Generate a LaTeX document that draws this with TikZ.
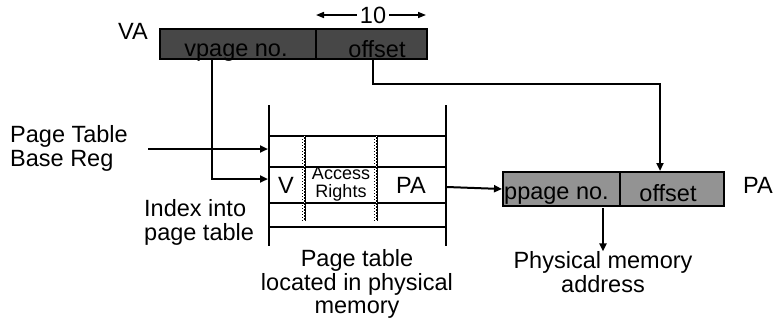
\documentclass[tikz,border=0pt]{standalone}
\usepackage{fontspec}
\setmainfont{Liberation Sans}
\usetikzlibrary{arrows.meta}
\definecolor{vafill}{HTML}{474747}
\definecolor{pafill}{HTML}{939393}
\tikzset{
  lbl/.style={inner sep=0pt, font=\fontsize{23.5}{23.5}\selectfont},
  small/.style={inner sep=0pt, font=\fontsize{18}{18}\selectfont},
  field/.style={draw, line width=2pt, inner sep=0pt},
  conn/.style={line width=2pt},
  arr/.style={line width=2pt, -{Triangle[length=8pt,width=7pt]}},
  tline/.style={line width=2.2pt},
  divider/.style={line width=2pt},
  dotline/.style={line width=1pt, dotted},
  widtharr/.style={line width=1.5pt, -{Triangle[length=8pt,width=6pt]}}
}
\begin{document}
\begin{tikzpicture}[x=1pt,y=-1pt]
\useasboundingbox (0,0) rectangle (775,325);

% virtual address register
\node[field, fill=vafill, minimum width=156pt, minimum height=30pt] (vpn) at (238,44) {};
\node[field, fill=vafill, minimum width=111pt, minimum height=30pt] (voff) at (371.5,44) {};
\node[lbl, anchor=base] (vpntxt) at (236,56) {vpage no.};
\node[lbl, anchor=base] (vofftxt) at (377,57) {offset};
\node[lbl] (valbl) at (133,31) {VA};

% offset width marker
\node[lbl] (ten) at (373,15) {10};
\coordinate (tenL) at (316,15);
\coordinate (tenR) at (426,15);
\draw[widtharr] (ten.west) ++(-3,0) -- (tenL);
\draw[widtharr] (ten.east) ++(3,0) -- (tenR);

% page table
\coordinate (tl) at (269,105);
\coordinate (bl) at (269,246);
\coordinate (tr) at (446,105);
\coordinate (br) at (446,246);
\draw[tline] (tl) -- (bl);
\draw[tline] (tr) -- (br);
\foreach \yy in {136,167,203,227}
  \draw[tline] (269,\yy) -- (446,\yy);
\foreach \xx in {305,377} {
  \draw[divider] (\xx,136) -- (\xx,221);
  \draw[dotline, white] (\xx-0.6,136) -- (\xx-0.6,221);
  \draw[dotline] (\xx-2.2,136) -- (\xx-2.2,221);
}
\node[lbl] (vcol) at (286,185) {V};
\node[small, align=center] (accol) at (341,184) {Access\\Rights};
\node[lbl] (pacol) at (411,185) {PA};

\coordinate (baseIn) at (268,149);
\coordinate (idxIn) at (268,179);
\coordinate (paOut) at (447,187);

% physical address register
\node[field, fill=pafill, minimum width=117pt, minimum height=34pt] (ppn) at (561.5,189) {};
\node[field, fill=pafill, minimum width=104pt, minimum height=34pt] (poff) at (672,189) {};
\node[lbl, anchor=base west] (ppntxt) at (504,199) {ppage no.};
\node[lbl, anchor=base] (pofftxt) at (668,201) {offset};
\node[lbl] (palbl) at (758,185) {PA};

% labels
\node[lbl, align=left, anchor=west] (ptbr) at (10,148.5) {Page Table\\Base Reg};
\node[lbl, align=left, anchor=west] (idx) at (144,222.5) {Index into\\page table};
\node[lbl, align=center] (ptloc) at (357,284) {Page table\\located in physical\\memory};
\node[lbl, align=center] (pmaddr) at (603,272) {Physical memory\\address};

% connectors
\coordinate (ptbrEnd) at (148,149);
\draw[arr] (ptbrEnd) -- (baseIn);
\draw[arr] (vpn.south -| 212,0) -- (212,179) -- (idxIn);
\draw[arr] (voff.south -| 373,0) -- (373,84) -- (660,84) -- (ppn.north -| 660,0);
\draw[arr] (paOut) -- (ppn.west);
\draw[arr] (603,208) -- (pmaddr.north);
\end{tikzpicture}
\end{document}
